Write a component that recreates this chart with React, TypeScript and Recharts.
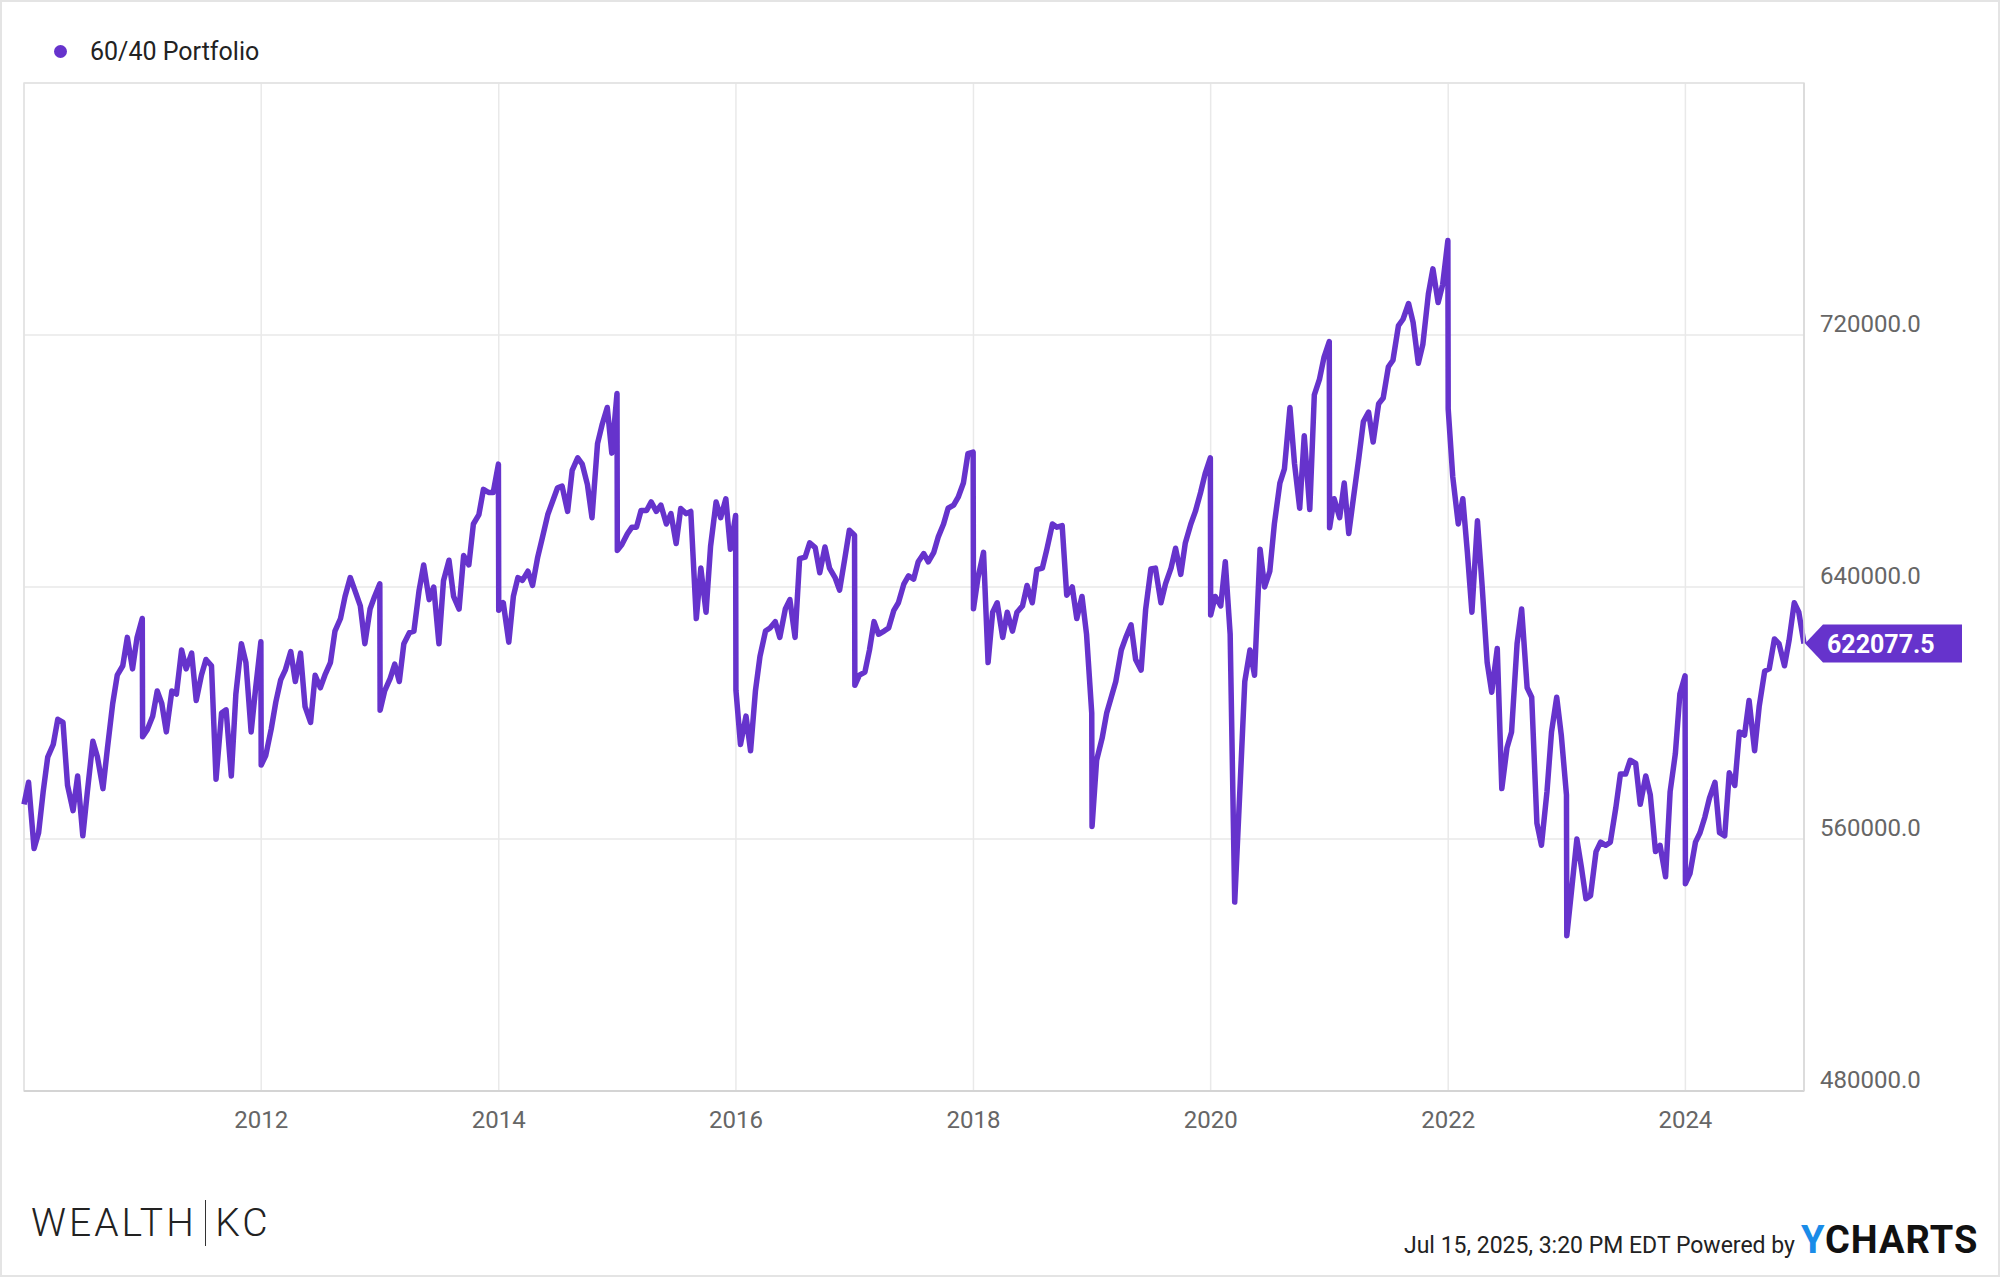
import React from "react";
import {
  LineChart,
  Line,
  XAxis,
  YAxis,
  CartesianGrid,
  ReferenceArea,
  ReferenceDot,
} from "recharts";

const years = [2010, 2011, 2012, 2013, 2014, 2015, 2016, 2017, 2018, 2019, 2020, 2021, 2022, 2023, 2024];

// portfolio value on the 1st and 15th of every month
const v2010 = [571000, 578000, 557000, 562000, 575000, 586000, 590000, 598000, 597000, 577000, 569000, 580000, 561000, 575000, 591000, 586000, 576000, 589000, 603000, 612000, 615000, 624000, 614000, 624000];
const v2011 = [592500, 594600, 599000, 607000, 603000, 594000, 607000, 606000, 620000, 614000, 619000, 604000, 612000, 617000, 615000, 579000, 600000, 601000, 580000, 606000, 622000, 616000, 594000, 608000];
const v2012 = [583500, 586500, 595000, 603500, 610500, 613600, 619500, 610000, 619000, 602000, 597000, 612000, 608000, 612000, 616000, 626000, 630000, 637000, 643000, 639000, 634000, 622000, 633000, 637000];
const v2013 = [600900, 607000, 611000, 615500, 610000, 622000, 625500, 626000, 639000, 647000, 636000, 640000, 622000, 642000, 648500, 637000, 633000, 650000, 647000, 660000, 663000, 671000, 670000, 670000];
const v2014 = [632600, 635000, 622500, 637000, 643000, 642100, 645000, 640500, 649500, 655500, 663000, 667000, 671500, 672000, 664000, 677000, 681000, 679000, 672500, 662000, 685500, 691500, 697000, 682500];
const v2015 = [651600, 653500, 656900, 659000, 659000, 664300, 664300, 667000, 664000, 666000, 660000, 663300, 653800, 664900, 663300, 664000, 630000, 646000, 632000, 653000, 667000, 662000, 668000, 652000];
const v2016 = [607200, 590000, 599000, 588000, 607000, 618000, 626000, 627000, 629000, 624000, 633000, 636000, 624000, 649000, 649500, 654000, 652500, 644500, 652700, 646000, 643000, 639000, 649000, 658000];
const v2017 = [608800, 612000, 613000, 620000, 629000, 625000, 626000, 627000, 632600, 635000, 641000, 643500, 642500, 648000, 650600, 648000, 651000, 656000, 660000, 665000, 666000, 668500, 673000, 682300];
const v2018 = [633100, 643000, 651000, 616000, 632000, 635000, 624000, 632000, 626000, 632000, 634000, 640500, 635000, 645500, 646000, 652000, 660000, 659000, 659500, 637400, 640000, 630000, 637000, 625000];
const v2019 = [564000, 585000, 592000, 600000, 605000, 610000, 620000, 624000, 628000, 617000, 613600, 633000, 645700, 646000, 635000, 641000, 646000, 652300, 644000, 654000, 660000, 664000, 670000, 676000];
const v2020 = [631100, 637000, 634000, 648000, 625000, 540000, 578000, 610000, 620000, 612000, 652000, 640000, 645000, 660000, 673000, 677500, 697000, 679200, 665000, 688000, 664600, 701000, 706000, 713000];
const v2021 = [658800, 668000, 662000, 673000, 657000, 668000, 681000, 692500, 695500, 686000, 698200, 700000, 709900, 712000, 723000, 725000, 730000, 724000, 711000, 717000, 733000, 741000, 730300, 736000];
const v2022 = [696500, 675000, 660000, 668000, 651000, 632000, 661000, 641000, 616000, 606600, 620500, 576000, 589000, 594000, 622000, 633000, 608000, 605000, 565000, 558000, 575000, 594000, 605000, 593000];
const v2023 = [529300, 543000, 560000, 551000, 541000, 542000, 556000, 559000, 558000, 559000, 570000, 580600, 580600, 585000, 584000, 571000, 580000, 574000, 556000, 558000, 548000, 575000, 587000, 606000];
const v2024 = [545800, 549000, 559000, 562000, 567000, 573000, 578000, 562000, 561000, 581000, 577000, 594000, 593000, 604000, 588000, 602000, 613300, 614000, 623500, 622000, 615000, 623000, 635000, 632000];

// value on Dec 31 of each year (before the January drop)
const yearEnd = [630000, 622600, 641000, 679000, 701400, 662700, 656400, 682800, 600000, 681000, 717900, 750000, 574000, 611800, 622077.5];

const tickYears = [2012, 2014, 2016, 2018, 2020, 2022, 2024];
const yTicks = [480000, 560000, 640000, 720000];
const yMin = 480000;
const yMax = 800000;

const seriesName = "60/40 Portfolio";
const purple = "#6633cc";
const font = "Roboto, sans-serif";

const perYear = [v2010, v2011, v2012, v2013, v2014, v2015, v2016, v2017, v2018, v2019, v2020, v2021, v2022, v2023, v2024];

const data = years.flatMap((yr, k) => [
  ...perYear[k].map((v, i) => ({ t: Date.UTC(yr, Math.floor(i / 2), i % 2 ? 15 : 1), v })),
  { t: Date.UTC(yr, 11, 31), v: yearEnd[k] },
]);
const first = data[0];
const last = data[data.length - 1];

function XTick({ x, y, payload }: any) {
  return (
    <text x={x} y={y + 29} textAnchor="middle" dominantBaseline="central" fill="#666" fontSize={24} fontFamily={font}>
      {new Date(payload.value).getUTCFullYear()}
    </text>
  );
}

function YTick({ x, y, payload }: any) {
  return (
    <text x={x + 16} y={y - 11} textAnchor="start" dominantBaseline="central" fill="#666" fontSize={24} fontFamily={font}>
      {Number(payload.value).toFixed(1)}
    </text>
  );
}

function EndLabel({ viewBox }: any) {
  if (!viewBox) return null;
  const x = viewBox.x + (viewBox.width || 0) / 2;
  const y = viewBox.y + (viewBox.height || 0) / 2;
  return (
    <g>
      <polygon
        points={`${x + 1},${y} ${x + 19},${y - 19} ${x + 158},${y - 19} ${x + 158},${y + 19} ${x + 19},${y + 19}`}
        fill={purple}
      />
      <text x={x + 23} y={y + 1} fill="#fff" fontSize={25} fontWeight={700} dominantBaseline="central" fontFamily={font}>
        {last.v.toFixed(1)}
      </text>
    </g>
  );
}

export default function App() {
  return (
    <div
      style={{
        position: "relative",
        width: 2000,
        height: 1277,
        background: "#fff",
        boxShadow: "inset 0 0 0 2px #e4e4e4",
        fontFamily: font,
        overflow: "hidden",
      }}
    >
      <style>{"body{margin:0}"}</style>

      <LineChart width={2000} height={1277} data={data} margin={{ top: 83, right: 0, bottom: 126, left: 24 }}>
        <CartesianGrid stroke="#e9e9e9" strokeWidth={1.5} />
        <ReferenceArea
          x1={first.t}
          x2={last.t}
          y1={yMin}
          y2={yMax}
          fill="none"
          stroke="#e2e2e2"
          strokeWidth={1.5}
          ifOverflow="visible"
        />
        <XAxis
          dataKey="t"
          type="number"
          domain={[first.t, last.t]}
          ticks={tickYears.map((yr) => Date.UTC(yr, 0, 1))}
          interval={0}
          tickSize={0}
          tickMargin={0}
          tickLine={false}
          axisLine={{ stroke: "#d4d4d4", strokeWidth: 2 }}
          height={60}
          tick={XTick}
        />
        <YAxis
          orientation="right"
          type="number"
          domain={[yMin, yMax]}
          ticks={yTicks}
          interval={0}
          width={196}
          tickSize={0}
          tickMargin={0}
          tickLine={false}
          axisLine={{ stroke: "#d8d8d8", strokeWidth: 1.5 }}
          tick={YTick}
        />
        <Line
          type="linear"
          dataKey="v"
          name={seriesName}
          stroke={purple}
          strokeWidth={5.5}
          strokeLinejoin="round"
          dot={false}
          activeDot={false}
          isAnimationActive={false}
        />
        <ReferenceDot x={last.t} y={last.v} r={0} ifOverflow="visible" label={EndLabel} />
      </LineChart>

      {/* legend */}
      <div style={{ position: "absolute", left: 54, top: 39, display: "flex", alignItems: "center", height: 25 }}>
        <div style={{ width: 13, height: 13, borderRadius: "50%", background: purple }} />
        <span style={{ marginLeft: 23, fontSize: 25, lineHeight: 1, color: "#222" }}>{seriesName}</span>
      </div>

      {/* footer */}
      <div style={{ position: "absolute", left: 31, top: 1200, height: 46, display: "flex", alignItems: "center", color: "#222" }}>
        <span style={{ fontSize: 39, fontWeight: 300, letterSpacing: 3, lineHeight: 1 }}>WEALTH</span>
        <div style={{ width: 1.5, height: 46, background: "#333", margin: "0 9px 0 8px" }} />
        <span style={{ fontSize: 39, fontWeight: 300, letterSpacing: 3, lineHeight: 1 }}>KC</span>
      </div>
      <div style={{ position: "absolute", left: 1404, top: 1221, display: "flex", alignItems: "baseline", lineHeight: 1 }}>
        <span style={{ fontSize: 23, color: "#222" }}>Jul 15, 2025, 3:20 PM EDT Powered by</span>
        <span style={{ marginLeft: 6, fontSize: 38, fontWeight: 700, letterSpacing: 1, color: "#111" }}>
          <span style={{ color: "#1a8ce8" }}>Y</span>CHARTS
        </span>
      </div>
    </div>
  );
}
